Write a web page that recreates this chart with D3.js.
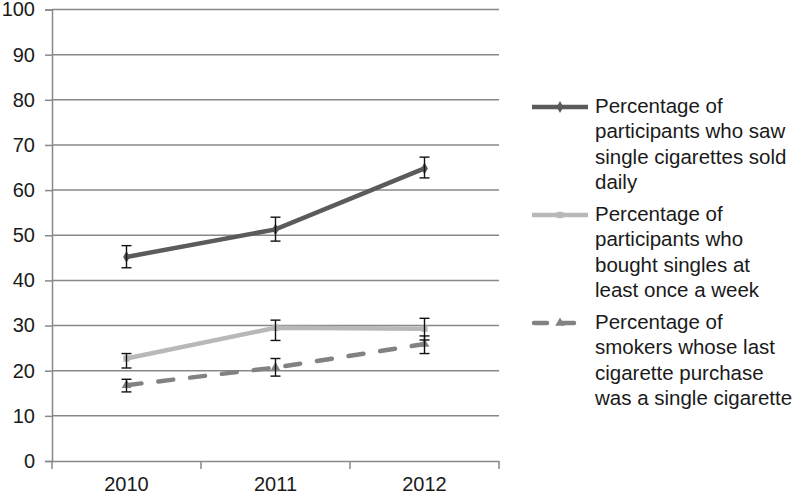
<!DOCTYPE html>
<html>
<head>
<meta charset="utf-8">
<script src="https://cdn.jsdelivr.net/npm/d3@7"></script>
<style>
  body { margin: 0; background: #fff; }
  svg { display: block; font-family: "Liberation Sans", Arial, sans-serif; }
</style>
</head>
<body>
<div id="chart"></div>
<script>
// data
let years = ["2010", "2011", "2012"];
let yTicks = [0, 10, 20, 30, 40, 50, 60, 70, 80, 90, 100];

let sawDaily     = [45.2, 51.3, 64.8];
let sawDailyLo   = [42.8, 48.7, 62.7];
let sawDailyHi   = [47.7, 54.0, 67.3];

let boughtWeekly   = [22.7, 29.5, 29.3];
let boughtWeeklyLo = [20.6, 26.7, 26.8];
let boughtWeeklyHi = [23.8, 31.2, 31.6];

let lastSingle   = [16.8, 20.7, 25.9];
let lastSingleLo = [15.3, 18.8, 23.8];
let lastSingleHi = [18.1, 22.7, 27.7];

let seriesNames = [
    ["Percentage of", "participants who saw", "single cigarettes sold", "daily"],
    ["Percentage of", "participants who", "bought singles at", "least once a week"],
    ["Percentage of", "smokers whose last", "cigarette purchase", "was a single cigarette"]
];

let series = [
    { values: sawDaily, lo: sawDailyLo, hi: sawDailyHi, color: "#5b5b5b", dash: null, marker: d3.symbolDiamond },
    { values: boughtWeekly, lo: boughtWeeklyLo, hi: boughtWeeklyHi, color: "#b8b8b8", dash: null, marker: d3.symbolSquare },
    { values: lastSingle, lo: lastSingleLo, hi: lastSingleHi, color: "#828282", dash: "15,17", marker: d3.symbolTriangle }
];

let width = 800, height = 493;
let svg = d3.select("#chart").append("svg")
    .attr("width", width)
    .attr("height", height);

let xScale = d3.scaleBand().domain(years).range([52, 499]).padding(0);
let yScale = d3.scaleLinear().domain([0, 100]).range([461, 9.5]);
let gridColor = "#888888";

// gridlines + y axis
let yAxis = svg.append("g")
    .attr("transform", "translate(52,0)")
    .call(d3.axisLeft(yScale).tickValues(yTicks).tickSize(7).tickPadding(10))
yAxis.select(".domain").attr("stroke", gridColor).attr("stroke-width", 1.5);
yAxis.selectAll(".tick line").attr("stroke", gridColor).attr("stroke-width", 1.5);
yAxis.selectAll(".tick text")
    .attr("font-size", "20px")
    .attr("fill", "#1a1a1a")
    .attr("font-family", "Liberation Sans, Arial, sans-serif");

svg.append("g").selectAll("line")
    .data(yTicks.filter(d => d > 0))
    .enter()
    .append("line")
    .attr("x1", 52).attr("x2", 499)
    .attr("y1", d => yScale(d)).attr("y2", d => yScale(d))
    .attr("stroke", gridColor)
    .attr("stroke-width", 1.5);

// x axis with ticks between categories
let xAxis = svg.append("g")
    .attr("transform", "translate(0,461)")
    .call(d3.axisBottom(xScale).tickSize(0).tickPadding(16));
xAxis.select(".domain").attr("stroke", gridColor).attr("stroke-width", 1.5);
xAxis.selectAll(".tick text")
    .attr("font-size", "20px")
    .attr("fill", "#1a1a1a")
    .attr("font-family", "Liberation Sans, Arial, sans-serif");
xAxis.selectAll("line.sep")
    .data([0, 1, 2, 3])
    .enter()
    .append("line")
    .attr("class", "sep")
    .attr("x1", i => i < 3 ? xScale(years[i]) : xScale.range()[1])
    .attr("x2", i => i < 3 ? xScale(years[i]) : xScale.range()[1])
    .attr("y1", 0).attr("y2", 8)
    .attr("stroke", gridColor)
    .attr("stroke-width", 1.5);

let cx = d => xScale(d) + xScale.bandwidth() / 2;

let line = d3.line()
    .x((d, i) => cx(years[i]))
    .y(d => yScale(d));

// lines, drawn bottom series first
series.slice().reverse().forEach(function(s){
    svg.append("path")
        .datum(s.values)
        .attr("d", line)
        .attr("fill", "none")
        .attr("stroke", s.color)
        .attr("stroke-width", 4.5)
        .attr("stroke-linecap", s.dash ? "round" : "butt")
        .attr("stroke-dasharray", s.dash);

    svg.append("g").selectAll("path")
        .data(s.values)
        .enter()
        .append("path")
        .attr("d", d3.symbol().type(s.marker).size(40))
        .attr("transform", (d, i) => "translate(" + cx(years[i]) + "," + yScale(d) + ")")
        .attr("fill", s.color);
});

// error bars
series.forEach(function(s){
    let g = svg.append("g").attr("stroke", "#111").attr("stroke-width", 1.4);
    years.forEach(function(yr, i){
        let x = cx(yr);
        g.append("line").attr("x1", x).attr("x2", x)
            .attr("y1", yScale(s.lo[i])).attr("y2", yScale(s.hi[i]));
        g.append("line").attr("x1", x - 5).attr("x2", x + 5)
            .attr("y1", yScale(s.lo[i])).attr("y2", yScale(s.lo[i]));
        g.append("line").attr("x1", x - 5).attr("x2", x + 5)
            .attr("y1", yScale(s.hi[i])).attr("y2", yScale(s.hi[i]));
    });
});

// legend
let legend = svg.append("g");
series.forEach(function(s, k){
    let ly = 107 + k * 108;
    let item = legend.append("g").attr("transform", "translate(0," + ly + ")");
    item.append("line")
        .attr("x1", s.dash ? 534 : 532).attr("x2", 588)
        .attr("y1", 0).attr("y2", 0)
        .attr("stroke", s.color)
        .attr("stroke-width", 4.5)
        .attr("stroke-linecap", s.dash ? "round" : "butt")
        .attr("stroke-dasharray", s.dash ? "13,14" : null);
    item.append("path")
        .attr("d", d3.symbol().type(s.marker).size(40))
        .attr("transform", "translate(560,0)")
        .attr("fill", s.color);
    item.append("text")
        .attr("x", 595)
        .attr("y", 6)
        .attr("font-size", "20.5px")
        .attr("fill", "#1a1a1a")
        .selectAll("tspan")
        .data(seriesNames[k])
        .enter()
        .append("tspan")
        .attr("x", 595)
        .attr("dy", (d, i) => i == 0 ? 0 : 25.3)
        .text(d => d);
});
</script>
</body>
</html>
